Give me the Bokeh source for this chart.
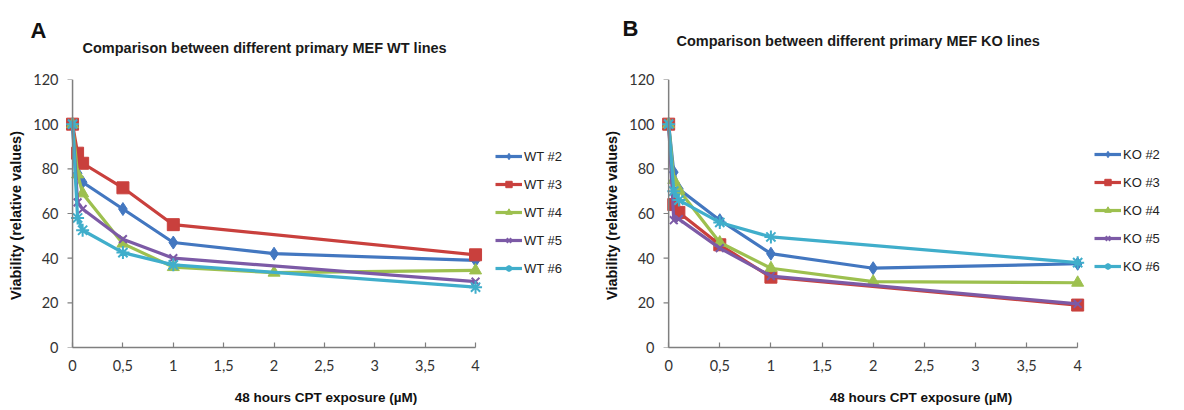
from bokeh.plotting import figure
from bokeh.models import (Legend, LegendItem, FixedTicker, CustomJSTickFormatter,
                          Range1d, Title, Span)
from bokeh.layouts import row
from bokeh.embed import file_html
from bokeh.resources import INLINE

# ---------------- data ----------------
x_with2 = [0, 0.05, 0.1, 0.5, 1, 2, 4]
x_no2 = [0, 0.05, 0.1, 0.5, 1, 4]

wt_names = ["WT #2", "WT #3", "WT #4", "WT #5", "WT #6"]
wt2 = [100, 78, 74, 62, 47, 42, 39]
wt3 = [100, 87, 82.5, 71.5, 55, 41.5]
wt4 = [100, 77.5, 69, 46.5, 36, 33.5, 34.5]
wt5 = [100, 65, 62, 48.5, 40, 29.5]
wt6 = [100, 58, 52.5, 42.5, 37, 27]

ko_names = ["KO #2", "KO #3", "KO #4", "KO #5", "KO #6"]
ko2 = [100, 78.5, 71, 57, 42, 35.5, 37.5]
ko3 = [100, 64, 60.5, 46, 31.5, 19]
ko4 = [100, 75, 70.5, 47, 35.5, 29.5, 29]
ko5 = [100, 57, 57.5, 44.5, 32, 19.5]
ko6 = [100, 70, 66, 56, 49.5, 38]

x_ticks = [0, 0.5, 1, 1.5, 2, 2.5, 3, 3.5, 4]
y_ticks = [0, 20, 40, 60, 80, 100, 120]

colors = ["#4377C0", "#C9403D", "#9DC04F", "#7C5AA6", "#40AECB"]
markers = ["diamond", "square", "triangle", "x", "asterisk"]
msizes = [13, 12, 12, 11, 13]

BOLD_FONT = "Liberation Sans"
TICK_FONT = "Lato"
AXIS_COLOR = "#7f7f7f"

TOP, FRAME_H, BOTTOM = 78, 269, 62


def panel(letter, title, names, xs, ys, px_per_unit, left, width,
          title_standoff, title_offset, letter_standoff, letter_offset, legend_loc):
    pad = 0.07
    fw = width - left - 4
    x_end = -pad + fw / px_per_unit
    p = figure(width=width, height=TOP + FRAME_H + BOTTOM,
               min_border_left=left, min_border_right=4,
               min_border_top=TOP, min_border_bottom=BOTTOM,
               x_range=Range1d(-pad, x_end), y_range=Range1d(0, 120),
               output_backend="svg", toolbar_location=None, tools="")
    p.outline_line_color = None
    p.grid.visible = False
    p.background_fill_color = "white"
    p.border_fill_color = "white"

    p.xaxis.ticker = FixedTicker(ticks=x_ticks)
    p.xaxis.formatter = CustomJSTickFormatter(code="return tick.toString().replace('.', ',');")
    p.xaxis.bounds = (0, 4)
    p.yaxis.ticker = FixedTicker(ticks=y_ticks)
    for ax in (p.xaxis[0], p.yaxis[0]):
        ax.axis_line_color = AXIS_COLOR
        ax.axis_line_width = 1.5
        ax.major_tick_line_color = AXIS_COLOR
        ax.major_tick_line_width = 1.2
        ax.minor_tick_line_color = None
        ax.major_label_text_font = TICK_FONT
        ax.major_label_text_font_size = "14.5px"
        ax.major_label_text_color = "#333333"
        ax.axis_label_text_font = BOLD_FONT
        ax.axis_label_text_font_style = "bold"
        ax.axis_label_text_color = "#111111"
    p.xaxis.axis_label_text_font_size = "13.5px"
    p.yaxis.axis_label_text_font_size = "14.5px"
    p.xaxis.major_tick_in = 5
    p.xaxis.major_tick_out = 0
    # y axis line drawn at x = 0 (inside the padded range)
    p.yaxis.axis_line_color = None
    p.yaxis.major_tick_line_color = None
    p.yaxis.major_tick_in = 0
    p.yaxis.major_tick_out = 0
    p.add_layout(Span(location=0, dimension="height", line_color=AXIS_COLOR, line_width=1.5))
    p.segment(x0=[-0.05] * len(y_ticks), y0=y_ticks, x1=[0] * len(y_ticks), y1=y_ticks,
              line_color=AXIS_COLOR, line_width=1.2)

    p.xaxis.axis_label = "48 hours CPT exposure (\u00b5M)"
    p.yaxis.axis_label = "Viability  (relative values)"
    p.xaxis.major_label_standoff = 12
    p.xaxis.axis_label_standoff = 16
    p.yaxis.major_label_standoff = 7
    p.yaxis.axis_label_standoff = 6

    items = []
    for i in range(5):
        xi = xs[i]
        yi = ys[i]
        r_line = p.line(xi, yi, line_color=colors[i], line_width=3.2)
        r_mark = p.scatter(xi, yi, marker=markers[i], size=msizes[i],
                           fill_color=colors[i], line_color=colors[i],
                           line_width=2 if markers[i] in ("x", "asterisk") else 1)
        items.append(LegendItem(label=names[i], renderers=[r_line, r_mark]))

    legend = Legend(items=items, location=legend_loc)
    legend.border_line_color = None
    legend.background_fill_alpha = 0
    legend.label_text_font = BOLD_FONT
    legend.label_text_font_size = "13px"
    legend.label_text_color = "#222222"
    legend.glyph_width = 27
    legend.glyph_height = 16
    legend.label_height = 16
    legend.spacing = 12
    legend.label_standoff = 2
    legend.padding = 4
    legend.margin = 0
    p.add_layout(legend)

    t_main = Title(text=title, align="left", text_font=BOLD_FONT,
                   text_font_style="bold", text_font_size="14.5px",
                   text_color="#1a1a1a", standoff=title_standoff, offset=title_offset)
    p.add_layout(t_main, "above")
    t_letter = Title(text=letter, align="left", text_font=BOLD_FONT,
                     text_font_style="bold", text_font_size="22px",
                     text_color="#111111", standoff=letter_standoff, offset=letter_offset)
    p.add_layout(t_letter, "above")
    return p


pa = panel("A", "Comparison between different primary MEF WT lines", wt_names,
           [x_with2, x_no2, x_with2, x_no2, x_no2], [wt2, wt3, wt4, wt5, wt6],
           100.75, 65, 590, 47, 17, -56, -35, (430, 71))
pb = panel("B", "Comparison between different primary MEF KO lines", ko_names,
           [x_with2, x_no2, x_with2, x_no2, x_no2], [ko2, ko3, ko4, ko5, ko6],
           102.25, 71, 594, 61, 15, -80, -39, (433, 73))

layout = row(pa, pb)
open("out.html", "w").write(file_html(layout, INLINE))
